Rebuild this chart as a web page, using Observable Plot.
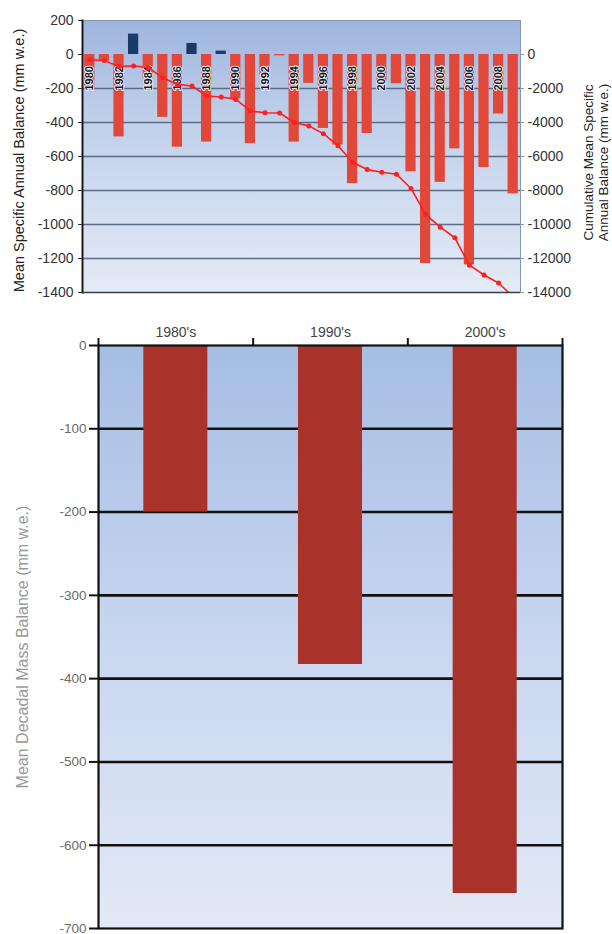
<!DOCTYPE html>
<html><head><meta charset="utf-8">
<script src="https://cdn.jsdelivr.net/npm/d3@7"></script>
<script src="https://cdn.jsdelivr.net/npm/@observablehq/plot@0.6"></script>
<style>
body{margin:0;background:#fff;}
#wrap{position:relative;width:612px;height:934px;overflow:hidden;font-family:"Liberation Sans",Arial,sans-serif;}
#top{position:absolute;left:0;top:0;}
#bottom{position:absolute;left:0;top:310px;}
</style></head><body><div id="wrap"><div id="top"></div><div id="bottom"></div></div>
<script>
// ---- data: annual mass balance (mm w.e.) ----
const years = [1980,1981,1982,1983,1984,1985,1986,1987,1988,1989,1990,1991,1992,1993,1994,1995,1996,1997,1998,1999,2000,2001,2002,2003,2004,2005,2006,2007,2008,2009];
const annualBalance = [-200,-40,-485,120,-140,-370,-545,65,-515,20,-260,-525,-120,-8,-515,-170,-435,-533,-760,-465,-160,-172,-690,-1230,-752,-555,-1238,-665,-350,-820];
const cumulativeBalance = [-310,-360,-700,-680,-760,-1370,-1760,-1850,-2440,-2500,-2640,-3320,-3430,-3440,-4000,-4200,-4660,-5370,-6340,-6770,-6930,-7040,-7880,-9400,-10160,-10780,-12390,-12970,-13440,-14260];
const labelYears = [1980,1982,1984,1986,1988,1990,1992,1994,1996,1998,2000,2002,2004,2006,2008];
const leftTicks = [200,0,-200,-400,-600,-800,-1000,-1200,-1400];
const rightTicks = [0,-2000,-4000,-6000,-8000,-10000,-12000,-14000];
const cumulativeRatio = 10; // right axis = 10 x left axis
const leftTitle = "Mean Specific Annual Balance (mm w.e.)";
const rightTitle = "Cumulative Mean Specific\nAnnual Balance (mm w.e.)";

// ---- data: decadal mean mass balance (mm w.e.) ----
const decades = ["1980's","1990's","2000's"];
const decadalBalance = [-200,-383,-658];
const decadalTicks = [0,-100,-200,-300,-400,-500,-600,-700];
const decadalTitle = "Mean Decadal Mass Balance (mm w.e.)";

const font = "'Liberation Sans', Arial, sans-serif";

function gradient(id, stops) {
  return () => {
    const ns = "http://www.w3.org/2000/svg";
    const defs = document.createElementNS(ns, "defs");
    const lg = document.createElementNS(ns, "linearGradient");
    lg.setAttribute("id", id);
    lg.setAttribute("x1", "0"); lg.setAttribute("y1", "0");
    lg.setAttribute("x2", "0"); lg.setAttribute("y2", "1");
    for (const [o, c] of stops) {
      const s = document.createElementNS(ns, "stop");
      s.setAttribute("offset", o); s.setAttribute("stop-color", c);
      lg.appendChild(s);
    }
    defs.appendChild(lg);
    return defs;
  };
}

const annual = years.map((year, i) => ({year, value: annualBalance[i], cum: cumulativeBalance[i]}));

const topChart = Plot.plot({
  width: 612, height: 310,
  marginTop: 20, marginBottom: 18, marginLeft: 82, marginRight: 92,
  style: {fontFamily: font, background: "transparent", overflow: "visible"},
  x: {type: "band", domain: years, paddingInner: 0.3, paddingOuter: 0.15, round: false, axis: null},
  y: {domain: [-1400, 200], axis: null},
  marks: [
    gradient("gTop", [["0", "#9eb5de"], ["0.35", "#bfcfea"], ["1", "#e4ebf7"]]),
    Plot.frame({fill: "url(#gTop)", stroke: "#8995aa", strokeWidth: 1}),
    Plot.ruleY(leftTicks.filter(d => d < 0 && d > -1400), {stroke: "#5d6c82", strokeWidth: 1.3}),
    Plot.barY(annual, {x: "year", y: "value", fill: d => d.value >= 0 ? "#1c3a68" : "#e2483a"}),
    Plot.text(annual.filter(d => labelYears.includes(d.year)), {
      x: "year", y: -140, text: d => String(d.year), rotate: -90,
      fontSize: 11, fontWeight: "bold", fill: "#141828", stroke: "#f2f4fa", strokeWidth: 1.8
    }),
    Plot.line(annual, {x: "year", y: d => d.cum / cumulativeRatio, stroke: "#ff1f1f", strokeWidth: 1.6, clip: true}),
    Plot.dot(annual, {x: "year", y: d => d.cum / cumulativeRatio, r: 2.5, fill: "#ff1f1f", clip: true}),
    Plot.ruleY([-1400], {stroke: "#3a3f48", strokeWidth: 1.6}),
    Plot.frame({anchor: "left", stroke: "#1a1a1a", strokeWidth: 2}),
    Plot.axisY({ticks: leftTicks, anchor: "left", tickSize: 4, tickPadding: 5, tickFormat: d => String(d), fontSize: 14, fill: "#333", stroke: "#333", label: null}),
    Plot.axisY({ticks: rightTicks.map(d => d / cumulativeRatio), anchor: "right", tickSize: 3, tickPadding: 4, tickFormat: d => String(Math.round(d * cumulativeRatio)), fontSize: 14, fill: "#333", stroke: "#8995aa", label: null}),
    Plot.text([leftTitle], {frameAnchor: "left", textAnchor: "middle", text: d => d, rotate: -90, dx: -63, dy: 4, fontSize: 14.5, fill: "#222"}),
    Plot.text([rightTitle], {frameAnchor: "right", textAnchor: "middle", text: d => d, rotate: -90, dx: 75, dy: 6, fontSize: 13.5, fill: "#222", lineHeight: 1.15})
  ]
});
document.getElementById("top").appendChild(topChart);

const decadal = decades.map((decade, i) => ({decade, value: decadalBalance[i]}));
const bW = 612 - 98 - 50;
const step = bW / decades.length;

const bottomChart = Plot.plot({
  width: 612, height: 624,
  marginTop: 35, marginBottom: 6, marginLeft: 98, marginRight: 50,
  style: {fontFamily: font, background: "transparent", overflow: "visible"},
  x: {type: "band", domain: decades, paddingInner: 0.586, paddingOuter: 0.293, round: false, axis: null},
  y: {domain: [-700, 0], axis: null},
  marks: [
    gradient("gBottom", [["0", "#a6bde4"], ["0.5", "#c8d6ef"], ["1", "#e2e9f6"]]),
    Plot.frame({fill: "url(#gBottom)"}),
    Plot.ruleY(decadalTicks.filter(d => d < 0 && d > -700), {stroke: "#111", strokeWidth: 2.6}),
    Plot.barY(decadal, {x: "decade", y: "value", fill: "#a9322b"}),
    Plot.frame({stroke: "#111", strokeWidth: 2.2}),
    Plot.axisY({ticks: decadalTicks, anchor: "left", tickSize: 9, tickPadding: 3, tickFormat: d => String(d), fontSize: 13.5, fill: "#6a6a6a", stroke: "#111", strokeWidth: 2, label: null}),
    Plot.axisX({anchor: "top", tickSize: 0, tickPadding: 9, fontSize: 14, fill: "#444", label: null}),
    Plot.ruleX(decades, {x: d => d, y1: 0, y2: 0, insetTop: -7, dx: -step / 2, stroke: "#111", strokeWidth: 2}),
    Plot.ruleX(decades.slice(-1), {x: d => d, y1: 0, y2: 0, insetTop: -7, dx: step / 2, stroke: "#111", strokeWidth: 2}),
    Plot.text([decadalTitle], {frameAnchor: "left", textAnchor: "middle", text: d => d, rotate: -90, dx: -76, dy: 10, fontSize: 16, fill: "#999"})
  ]
});
document.getElementById("bottom").appendChild(bottomChart);
</script></body></html>
